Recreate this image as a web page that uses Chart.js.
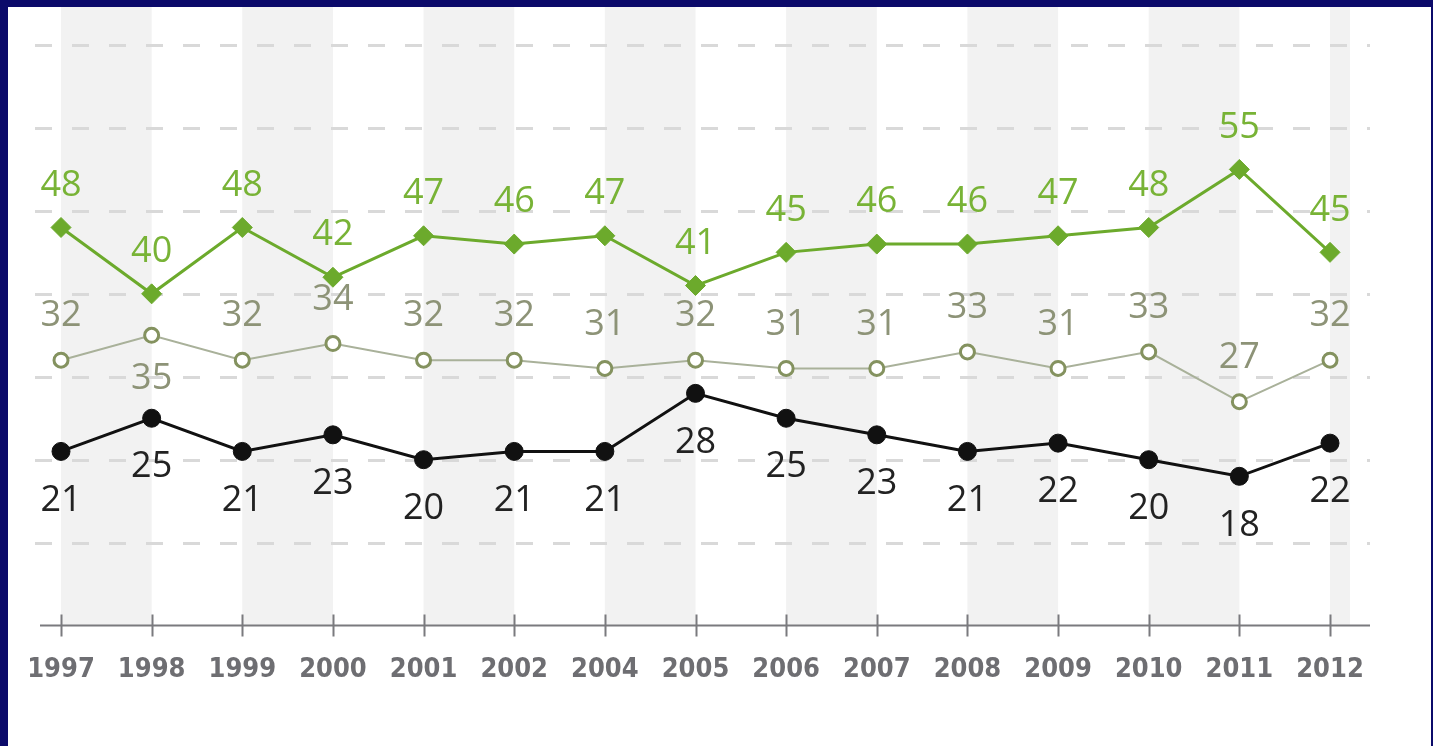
<!DOCTYPE html>
<html>
<head>
<meta charset="utf-8">
<script src="https://cdn.jsdelivr.net/npm/chart.js@4.4.1/dist/chart.umd.min.js"></script>
<style>
  html, body { margin: 0; padding: 0; background: #0b0a6a; overflow: hidden; }
  #box { position: absolute; left: 8px; top: 7px; width: 1423px; height: 739px; background: #ffffff; }
</style>
</head>
<body>
<div id="box"><canvas id="grafico" width="1423" height="739"></canvas></div>
<script>
// dados
const anos = ['1997', '1998', '1999', '2000', '2001', '2002', '2004', '2005', '2006', '2007', '2008', '2009', '2010', '2011', '2012'];
const serieVerde = [48, 40, 48, 42, 47, 46, 47, 41, 45, 46, 46, 47, 48, 55, 45];
const serieCinza = [32, 35, 32, 34, 32, 32, 31, 32, 31, 31, 33, 31, 33, 27, 32];
const seriePreta = [21, 25, 21, 23, 20, 21, 21, 28, 25, 23, 21, 22, 20, 18, 22];
const linhasGrade = [10, 20, 30, 40, 50, 60, 70];

const corVerde = '#6caa2c';
const corCinzaLinha = '#a9b19a';
const corCinzaPonto = '#84925f';

// faixas cinzas, linhas tracejadas e eixo
const fundo = {
  id: 'fundo',
  beforeDatasetsDraw(chart) {
    const ctx = chart.ctx;
    const x = chart.scales.x, y = chart.scales.y;
    const area = chart.chartArea;
    const base = y.getPixelForValue(0);
    ctx.save();
    ctx.fillStyle = '#f2f2f2';
    for (let i = 0; i < anos.length; i += 2) {
      const x0 = x.getPixelForValue(i);
      const x1 = i + 1 < anos.length ? x.getPixelForValue(i + 1) : x0 + 20;
      ctx.fillRect(x0, 0, x1 - x0, base);
    }
    ctx.strokeStyle = '#d9d9d9';
    ctx.lineWidth = 3;
    ctx.setLineDash([17, 20]);
    linhasGrade.forEach(v => {
      const py = Math.round(y.getPixelForValue(v)) + 0.5;
      ctx.beginPath();
      ctx.moveTo(area.left - 26, py);
      ctx.lineTo(area.right + 40, py);
      ctx.stroke();
    });
    ctx.setLineDash([]);
    ctx.strokeStyle = '#7a7a7e';
    ctx.lineWidth = 2;
    ctx.beginPath();
    ctx.moveTo(area.left - 21, base);
    ctx.lineTo(area.right + 40, base);
    for (let i = 0; i < anos.length; i++) {
      const px = Math.round(x.getPixelForValue(i)) + 0.5;
      ctx.moveTo(px, base - 11);
      ctx.lineTo(px, base + 11);
    }
    ctx.stroke();
    ctx.restore();
  }
};

// rotulos dos valores
const rotulos = {
  id: 'rotulos',
  afterDatasetsDraw(chart) {
    const ctx = chart.ctx;
    ctx.save();
    ctx.textAlign = 'center';
    ctx.textBaseline = 'middle';
    ctx.font = '36px "Open Sans"';
    chart.data.datasets.forEach((ds, d) => {
      const meta = chart.getDatasetMeta(d);
      meta.data.forEach((pt, i) => {
        let dy;
        if (d === 0) dy = -42;
        else if (d === 1) dy = (serieVerde[i] - serieCinza[i] < 7) ? 43 : -44;
        else dy = 49;
        ctx.fillStyle = ds.corRotulo;
        ctx.fillText(String(ds.data[i]), pt.x, pt.y + dy);
      });
    });
    ctx.restore();
  }
};

new Chart(document.getElementById('grafico'), {
  type: 'line',
  data: {
    labels: anos,
    datasets: [{
      data: serieVerde,
      borderColor: corVerde,
      borderWidth: 3,
      pointStyle: 'rectRot',
      pointRadius: 10,
      pointBackgroundColor: corVerde,
      pointBorderColor: corVerde,
      pointBorderWidth: 1,
      tension: 0,
      corRotulo: '#78b336'
    }, {
      data: serieCinza,
      borderColor: corCinzaLinha,
      borderWidth: 2,
      pointStyle: 'circle',
      pointRadius: 7,
      pointBackgroundColor: '#ffffff',
      pointBorderColor: corCinzaPonto,
      pointBorderWidth: 3,
      tension: 0,
      corRotulo: '#8d9377'
    }, {
      data: seriePreta,
      borderColor: '#111111',
      borderWidth: 3,
      pointStyle: 'circle',
      pointRadius: 9,
      pointBackgroundColor: '#111111',
      pointBorderColor: '#111111',
      pointBorderWidth: 1,
      tension: 0,
      corRotulo: '#222222'
    }]
  },
  options: {
    responsive: false,
    animation: false,
    layout: { padding: { left: 53, right: 101, top: 38, bottom: 56 } },
    plugins: { legend: { display: false }, tooltip: { enabled: false } },
    scales: {
      x: {
        grid: { color: 'rgba(0,0,0,0)', drawOnChartArea: false, drawTicks: true, tickLength: 24 },
        border: { display: false },
        ticks: {
          padding: 4,
          color: '#6e6e72',
          font: { family: "'DejaVu Sans Condensed', 'Liberation Sans Narrow', sans-serif", size: 27, weight: 'bold' },
          maxRotation: 0,
          autoSkip: false
        }
      },
      y: {
        display: false,
        min: 0,
        max: 70
      }
    }
  },
  plugins: [fundo, rotulos]
});
</script>
</body>
</html>
